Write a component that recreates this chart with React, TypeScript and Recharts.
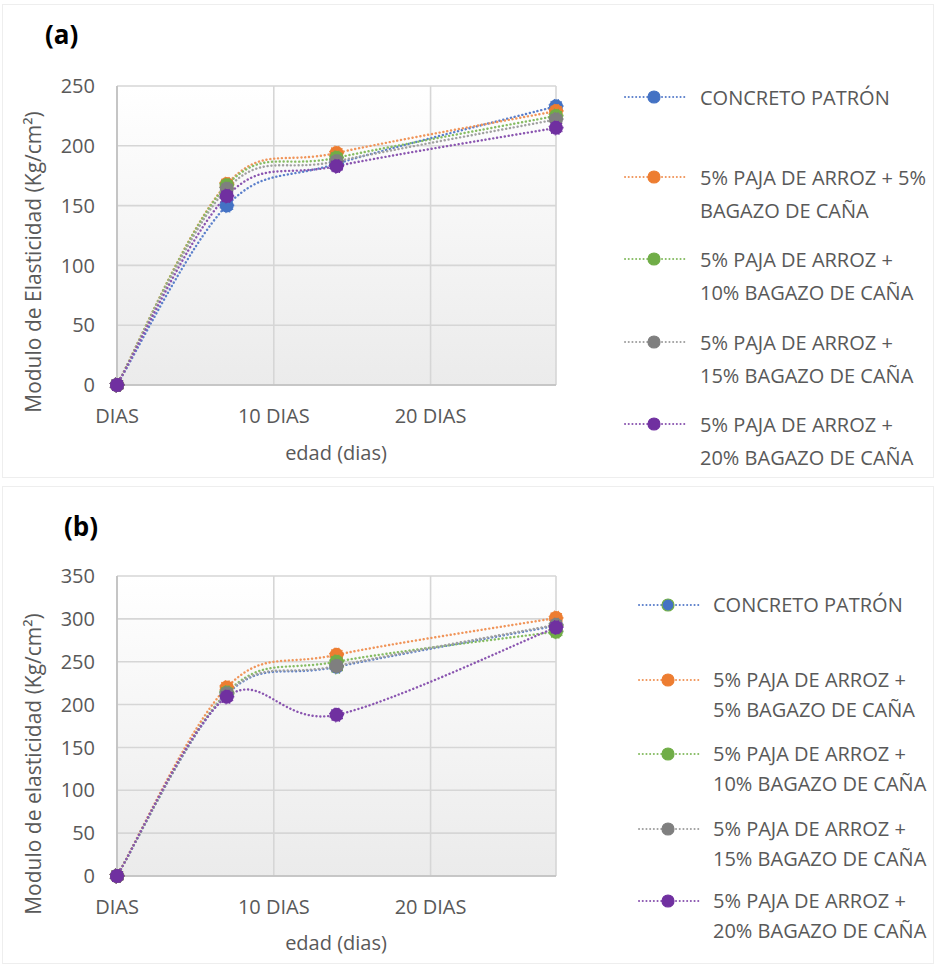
import React from 'react';
import { LineChart, Line, XAxis, YAxis, CartesianGrid } from 'recharts';

const days = [0, 7, 14, 28];
const xTicks = [0, 10, 20];
const xTickLabels = ['DIAS', '10 DIAS', '20 DIAS'];

const seriesNamesA = [
  ['CONCRETO PATRÓN'],
  ['5% PAJA DE ARROZ + 5%', 'BAGAZO DE CAÑA'],
  ['5% PAJA DE ARROZ +', '10% BAGAZO DE CAÑA'],
  ['5% PAJA DE ARROZ +', '15% BAGAZO DE CAÑA'],
  ['5% PAJA DE ARROZ +', '20% BAGAZO DE CAÑA'],
];
const seriesNamesB = [
  ['CONCRETO PATRÓN'],
  ['5% PAJA DE ARROZ +', '5% BAGAZO DE CAÑA'],
  ['5% PAJA DE ARROZ +', '10% BAGAZO DE CAÑA'],
  ['5% PAJA DE ARROZ +', '15% BAGAZO DE CAÑA'],
  ['5% PAJA DE ARROZ +', '20% BAGAZO DE CAÑA'],
];

// Panel (a) values
const aPatron = [0, 150, 185, 233];
const aP5 = [0, 168, 194, 229];
const aP10 = [0, 167, 190, 225];
const aP15 = [0, 164, 187, 222];
const aP20 = [0, 158, 183, 215];

// Panel (b) values
const bPatron = [0, 212, 244, 292];
const bP5 = [0, 220, 258, 301];
const bP10 = [0, 214, 250, 285];
const bP15 = [0, 213, 245, 293];
const bP20 = [0, 209, 188, 290];

const yTicksA = [0, 50, 100, 150, 200, 250];
const yTicksB = [0, 50, 100, 150, 200, 250, 300, 350];

const keys = ['patron', 'p5', 'p10', 'p15', 'p20'];
const colors = ['#4472C4', '#ED7D31', '#70AD47', '#7F7F7F', '#7030A0'];
const lineColors = ['#5B7FCB', '#F0955A', '#86BC63', '#A0A0A0', '#8A55B0'];

const buildRows = (cols: number[][]) =>
  days.map((d, i) => {
    const row: any = { day: d };
    keys.forEach((k, j) => (row[k] = cols[j][i]));
    return row;
  });

const dataA = buildRows([aPatron, aP5, aP10, aP15, aP20]);
const dataB = buildRows([bPatron, bP5, bP10, bP15, bP20]);

// Excel-like smoothed line (Catmull-Rom style bezier)
const excelCurve = (context: any) => {
  let pts: number[][] = [];
  return {
    areaStart() {},
    areaEnd() {},
    lineStart() {
      pts = [];
    },
    point(x: number, y: number) {
      pts.push([+x, +y]);
    },
    lineEnd() {
      const n = pts.length;
      if (!n) return;
      context.moveTo(pts[0][0], pts[0][1]);
      for (let i = 0; i < n - 1; i++) {
        const p0 = pts[Math.max(i - 1, 0)];
        const p1 = pts[i];
        const p2 = pts[i + 1];
        const p3 = pts[Math.min(i + 2, n - 1)];
        const c1x = p1[0] + (p2[0] - p0[0]) / 6;
        const c1y = p1[1] + (p2[1] - p0[1]) / 6;
        const c2x = p2[0] - (p3[0] - p1[0]) / 6;
        const c2y = p2[1] - (p3[1] - p1[1]) / 6;
        context.bezierCurveTo(c1x, c1y, c2x, c2y, p2[0], p2[1]);
      }
    },
  };
};

const FONT = '"Open Sans", "Noto Sans", sans-serif';
const TXT = '#595959';

type PanelProps = {
  id: string;
  data: any[];
  yMax: number;
  yTicks: number[];
  top: number;
  height: number;
  marginBottom: number;
  markerStroke: string[];
};

const Panel = ({ id, data, yMax, yTicks, top, height, marginBottom, markerStroke }: PanelProps) => (
  <div style={{ position: 'absolute', left: 0, top }}>
    <LineChart
      width={580}
      height={height}
      data={data}
      margin={{ top: 86, right: 24, bottom: marginBottom, left: 57 }}
    >
      <defs>
        <linearGradient id={id} x1="0" y1="0" x2="0" y2="1">
          <stop offset="0%" stopColor="#ffffff" />
          <stop offset="100%" stopColor="#ebebeb" />
        </linearGradient>
      </defs>
      <CartesianGrid stroke="#d6d6d6" strokeWidth={1.6} fill={`url(#${id})`} fillOpacity={1} />
      <XAxis
        dataKey="day"
        type="number"
        domain={[0, 28]}
        ticks={xTicks}
        tickFormatter={(v: number) => xTickLabels[xTicks.indexOf(v)]}
        tickLine={false}
        axisLine={{ stroke: '#bfbfbf', strokeWidth: 1.6 }}
        tick={{ fill: TXT, fontSize: 20, fontFamily: FONT }}
        tickMargin={18}
        height={40}
        interval={0}
      />
      <YAxis
        type="number"
        domain={[0, yMax]}
        ticks={yTicks}
        tickLine={false}
        axisLine={{ stroke: '#bfbfbf', strokeWidth: 1.6 }}
        tick={{ fill: TXT, fontSize: 20, fontFamily: FONT }}
        tickMargin={16}
        width={60}
        interval={0}
      />
      {keys.map((k, j) => (
        <Line
          key={k}
          dataKey={k}
          type={excelCurve as any}
          stroke={lineColors[j]}
          strokeWidth={2.4}
          strokeDasharray="0.1 3.8"
          strokeLinecap="round"
          dot={{ r: 7, fill: colors[j], stroke: markerStroke[j], strokeWidth: 1.2, fillOpacity: 1 }}
          isAnimationActive={false}
        />
      ))}
    </LineChart>
  </div>
);

type LegendProps = {
  names: string[][];
  rows: number[];
  lineX: number;
  textX: number;
  lineH: number;
  markerStroke: string[];
};

const Legend = ({ names, rows, lineX, textX, lineH, markerStroke }: LegendProps) => (
  <>
    {names.map((lines, j) => (
      <React.Fragment key={j}>
        <svg
          width={70}
          height={16}
          style={{ position: 'absolute', left: lineX, top: rows[j] - 8 }}
        >
          <line
            x1={2}
            y1={8}
            x2={62}
            y2={8}
            stroke={lineColors[j]}
            strokeWidth={2}
            strokeDasharray="0.1 3.6"
            strokeLinecap="round"
          />
          <circle cx={31} cy={8} r={6} fill={colors[j]} stroke={markerStroke[j]} strokeWidth={1.2} />
        </svg>
        <div
          style={{
            position: 'absolute',
            left: textX,
            top: rows[j] - lineH / 2,
            fontFamily: FONT,
            fontSize: 20,
            lineHeight: `${lineH}px`,
            color: TXT,
            whiteSpace: 'nowrap',
          }}
        >
          {lines.map((t, i) => (
            <div key={i}>{t}</div>
          ))}
        </div>
      </React.Fragment>
    ))}
  </>
);

const strokeA = colors;
const strokeB = ['#70AD47', colors[1], colors[2], colors[3], colors[4]];

export default function App() {
  return (
    <div
      style={{
        position: 'absolute',
        left: 0,
        top: 0,
        width: 936,
        height: 966,
        background: '#ffffff',
        fontFamily: FONT,
        overflow: 'hidden',
      }}
    >
      <div style={{ position: 'absolute', left: 2, top: 4, width: 930, height: 472, border: '1px solid #eeeeee' }} />
      <div style={{ position: 'absolute', left: 2, top: 486, width: 930, height: 476, border: '1px solid #eeeeee' }} />

      <Panel
        id="bgA"
        data={dataA}
        yMax={250}
        yTicks={yTicksA}
        top={0}
        height={470}
        marginBottom={45}
        markerStroke={strokeA}
      />
      <Panel
        id="bgB"
        data={dataB}
        yMax={350}
        yTicks={yTicksB}
        top={490}
        height={476}
        marginBottom={50}
        markerStroke={strokeB}
      />

      <div style={{ position: 'absolute', left: 45, top: 16, fontSize: 26, fontWeight: 700, color: '#000', fontFamily: FONT }}>
        (a)
      </div>
      <div style={{ position: 'absolute', left: 64, top: 508, fontSize: 26, fontWeight: 700, color: '#000', fontFamily: FONT }}>
        (b)
      </div>

      <div
        style={{
          position: 'absolute',
          left: 33,
          top: 262,
          transform: 'translate(-50%, -50%) rotate(-90deg)',
          fontSize: 21,
          color: TXT,
          whiteSpace: 'nowrap',
          fontFamily: FONT,
        }}
      >
        Modulo de Elasticidad  (Kg/cm²)
      </div>
      <div
        style={{
          position: 'absolute',
          left: 33,
          top: 764,
          transform: 'translate(-50%, -50%) rotate(-90deg)',
          fontSize: 21,
          color: TXT,
          whiteSpace: 'nowrap',
          fontFamily: FONT,
        }}
      >
        Modulo de elasticidad (Kg/cm²)
      </div>

      <div
        style={{
          position: 'absolute',
          left: 336,
          top: 452,
          transform: 'translate(-50%, -50%)',
          fontSize: 20,
          color: TXT,
          whiteSpace: 'nowrap',
          fontFamily: FONT,
        }}
      >
        edad (dias)
      </div>
      <div
        style={{
          position: 'absolute',
          left: 336,
          top: 942,
          transform: 'translate(-50%, -50%)',
          fontSize: 20,
          color: TXT,
          whiteSpace: 'nowrap',
          fontFamily: FONT,
        }}
      >
        edad (dias)
      </div>

      <Legend
        names={seriesNamesA}
        rows={[97, 177, 259, 342, 424]}
        lineX={623}
        textX={700}
        lineH={33}
        markerStroke={strokeA}
      />
      <Legend
        names={seriesNamesB}
        rows={[605, 680, 754, 829, 901]}
        lineX={637}
        textX={713}
        lineH={30}
        markerStroke={strokeB}
      />
    </div>
  );
}
